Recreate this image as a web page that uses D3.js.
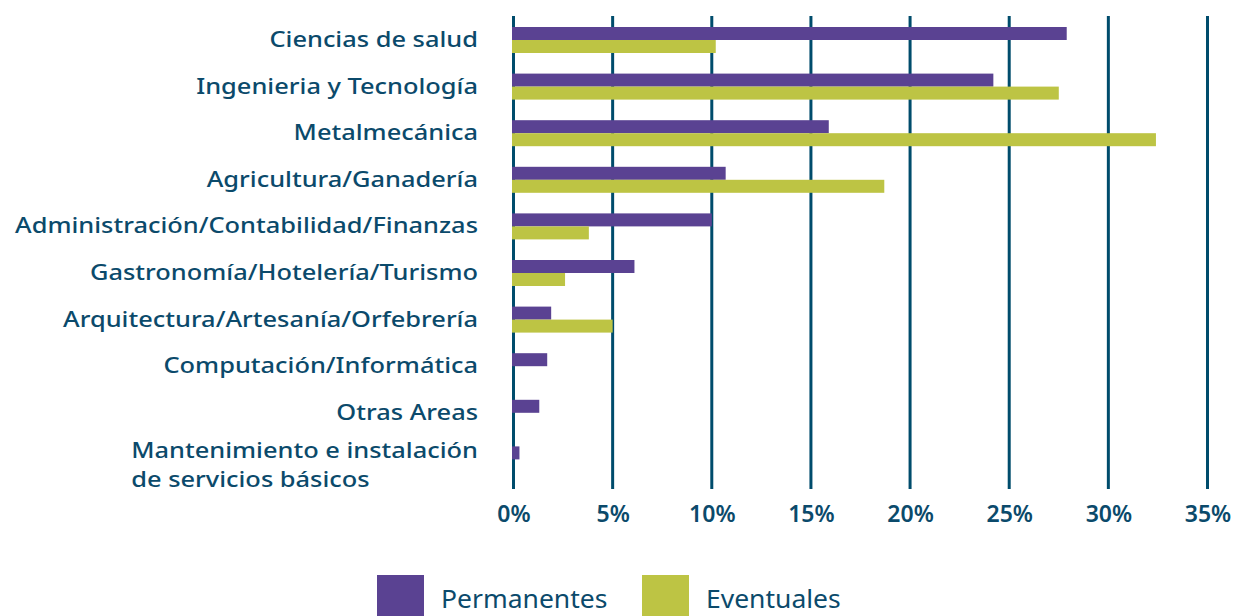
<!DOCTYPE html>
<html>
<head>
<meta charset="utf-8">
<script src="https://cdn.jsdelivr.net/npm/d3@7"></script>
<style>
body { margin:0; background:#fff; }
text { font-family: "Noto Sans", sans-serif; fill:#0b4a6b; }
.cat { font-size:22px; font-weight:500; }
.tick text { font-size:23px; font-weight:600; }
.leg { font-size:25px; font-weight:400; }
</style>
</head>
<body>
<div id="chart"></div>
<script>
var categories = [
	["Ciencias de salud"],
	["Ingenieria y Tecnología"],
	["Metalmecánica"],
	["Agricultura/Ganadería"],
	["Administración/Contabilidad/Finanzas"],
	["Gastronomía/Hotelería/Turismo"],
	["Arquitectura/Artesanía/Orfebrería"],
	["Computación/Informática"],
	["Otras Areas"],
	["Mantenimiento e instalación", "de servicios básicos"]
];
var permanentes = [27.9, 24.2, 15.9, 10.7, 10.0, 6.1, 1.9, 1.7, 1.3, 0.3];
var eventuales  = [10.2, 27.5, 32.4, 18.7, 3.8, 2.6, 5.0, 0, 0, 0];
var ticks = [0, 5, 10, 15, 20, 25, 30, 35];
var series = ["Permanentes", "Eventuales"];
var colors = ["#5a4292", "#bdc444"];

var W = 1234, H = 616;
var sx = 1.155; // wide face look
var keys = categories.map(function(c) { return c.join(" "); });

var x = d3.scaleLinear().domain([0, 35]).range([513.5, 1207.5]);
var y = d3.scaleBand().domain(keys).range([16.7, 482.7]).paddingInner(0.44).paddingOuter(0.22);

var svg = d3.select("#chart").append("svg")
	.attr("width", W).attr("height", H);

// grid
svg.append("g").selectAll("line").data(ticks).enter().append("line")
	.attr("x1", function(d) { return x(d); }).attr("x2", function(d) { return x(d); })
	.attr("y1", 16).attr("y2", 489)
	.attr("stroke", "#004c6c").attr("stroke-width", 3);

var bh = 13;
var rows = svg.append("g").selectAll("g").data(keys).enter().append("g");
rows.append("rect")
	.attr("x", 512)
	.attr("y", function(d) { return y(d) + y.bandwidth()/2 - bh; })
	.attr("width", function(d, i) { return x(permanentes[i]) - 512; })
	.attr("height", bh).attr("fill", colors[0]);
rows.append("rect")
	.attr("x", 512)
	.attr("y", function(d) { return y(d) + y.bandwidth()/2; })
	.attr("width", function(d, i) { return eventuales[i] ? x(eventuales[i]) - 512 : 0; })
	.attr("height", bh).attr("fill", colors[1]);

// category labels: block right aligned at 478, lines left aligned
rows.append("text").attr("class", "cat")
	.attr("transform", function(d) { return "translate(478," + (y(d) + y.bandwidth()/2) + ") scale(" + sx + ",1)"; })
	.each(function(d, i) {
		var lines = categories[i];
		var t = d3.select(this);
		var ys = lines.length === 1 ? [7] : [-1, 28];
		lines.forEach(function(l, j) {
			t.append("tspan").attr("y", ys[j]).text(l);
		});
		var w = t.select("tspan").node().getComputedTextLength();
		t.selectAll("tspan").attr("x", -w);
	});

// x axis
var xax = svg.append("g").attr("transform", "translate(0,489)")
	.call(d3.axisBottom(x).tickValues(ticks).tickSize(0).tickPadding(17)
		.tickFormat(function(d) { return d + "%"; }));
xax.select(".domain").remove();
xax.selectAll("text").attr("fill", "#0b4a6b").attr("dy", "0.71em");

// legend
var lx = [377, 642];
var leg = svg.append("g").selectAll("g").data(series).enter().append("g")
	.attr("transform", function(d, i) { return "translate(" + lx[i] + ",575)"; });
leg.append("rect").attr("width", 47).attr("height", 47)
	.attr("fill", function(d, i) { return colors[i]; });
leg.append("text").attr("class", "leg")
	.attr("transform", "translate(64,33) scale(1.06,1)")
	.text(function(d) { return d; });
</script>
</body>
</html>
